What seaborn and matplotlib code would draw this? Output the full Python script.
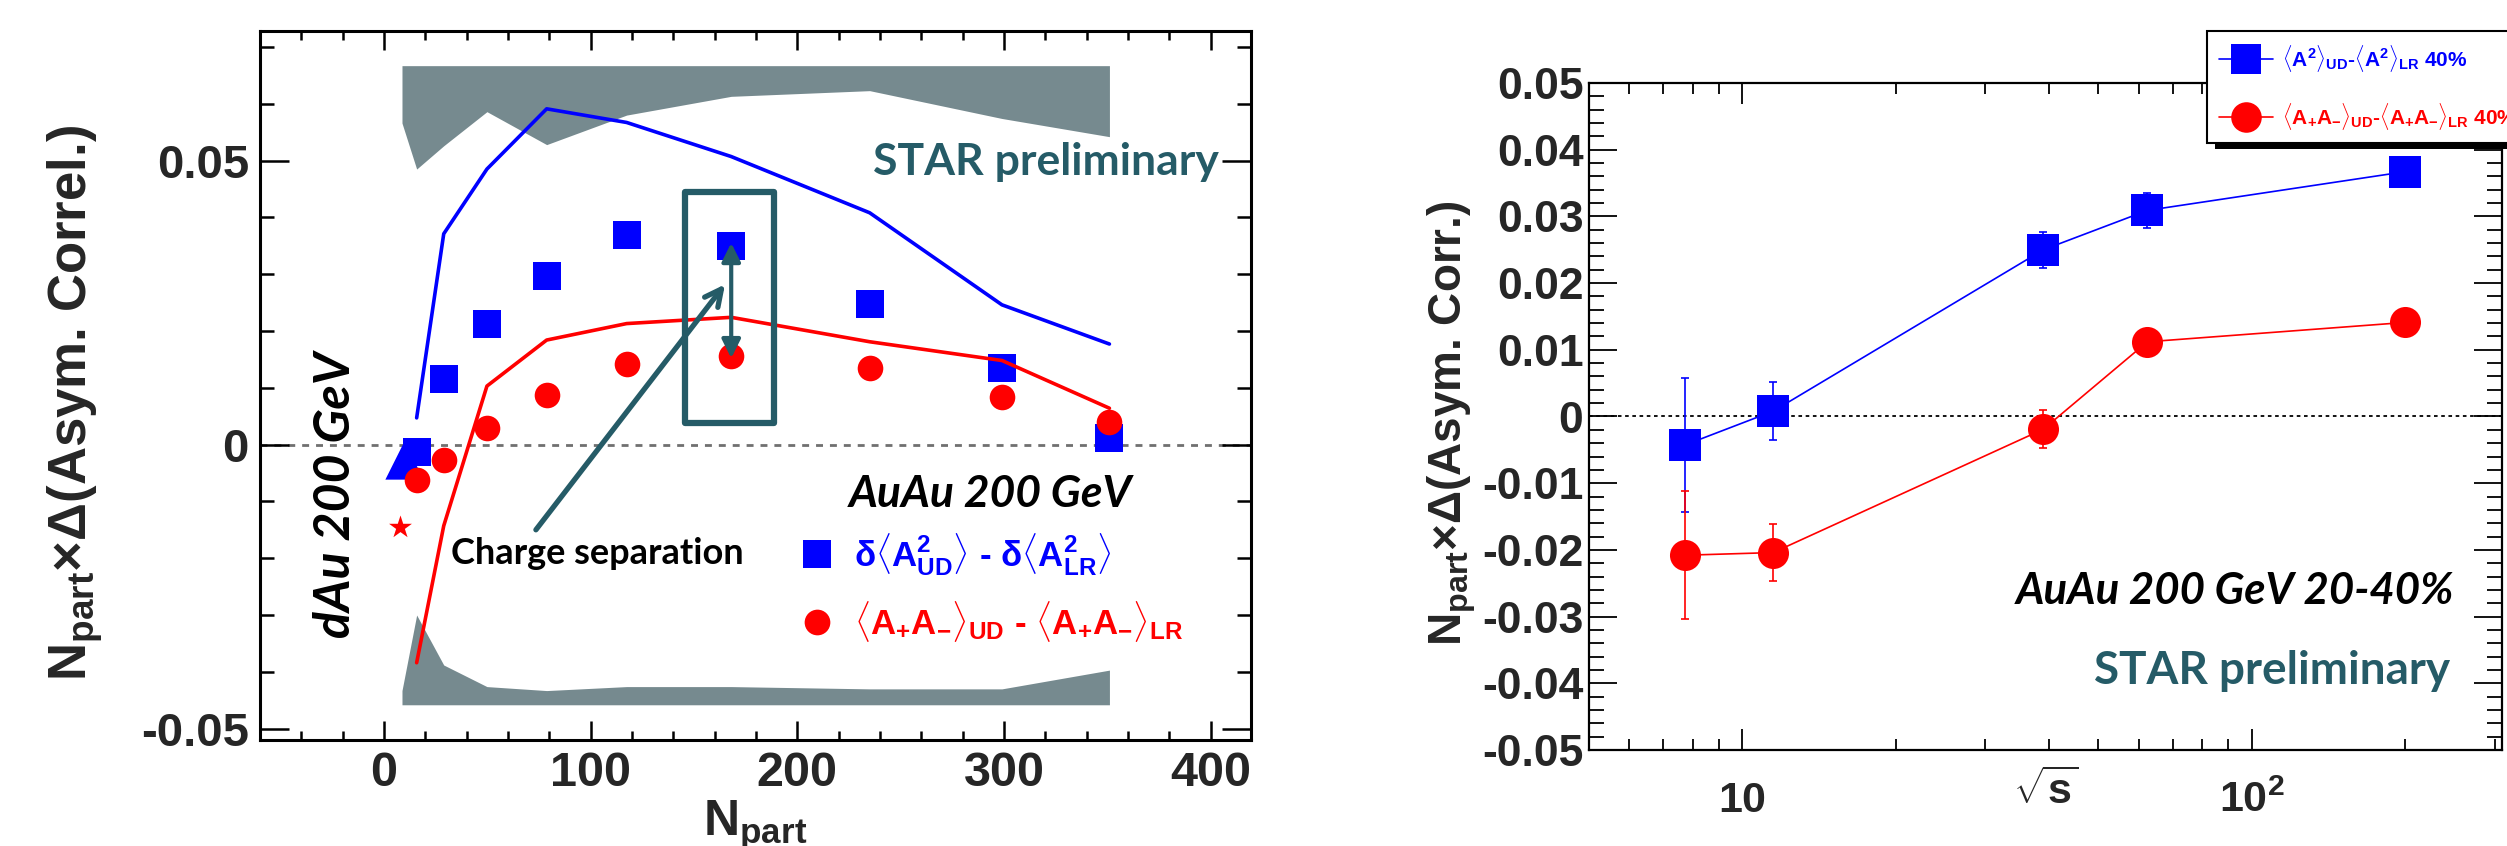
import numpy as np
import pandas as pd
import matplotlib
matplotlib.use("Agg")
import matplotlib.pyplot as plt
import seaborn as sns
from matplotlib.patches import Rectangle
from matplotlib.lines import Line2D
from matplotlib.ticker import FixedLocator, FixedFormatter, MultipleLocator, NullFormatter

# ---------------- Left panel data (vs N_part) ----------------
npart = [15.8, 28.9, 49.8, 78.7, 117.4, 168, 235, 299, 351]
sq_vals = [-0.0013, 0.0116, 0.0212, 0.0297, 0.0369, 0.0350, 0.0248, 0.0134, 0.0011]
circ_vals = [-0.0063, -0.0027, 0.0029, 0.0088, 0.0141, 0.0156, 0.0134, 0.0084, 0.0039]
blue_line = [0.0047, 0.0371, 0.0485, 0.0591, 0.0567, 0.0507, 0.0408, 0.0246, 0.0177]
red_line = [-0.0384, -0.0143, 0.0103, 0.0184, 0.0213, 0.0224, 0.0181, 0.0148, 0.0064]
band_x = [8.7, 15.8, 28.9, 49.8, 78.7, 117.4, 168, 235, 299, 351]
band_top_hi = [0.0667, 0.0667, 0.0667, 0.0667, 0.0667, 0.0667, 0.0667, 0.0667, 0.0667, 0.0667]
band_top_lo = [0.0566, 0.0485, 0.0526, 0.0586, 0.0528, 0.0580, 0.0613, 0.0623, 0.0574, 0.0542]
band_bot_hi = [-0.0433, -0.0300, -0.0388, -0.0426, -0.0433, -0.0426, -0.0426, -0.0430, -0.0430, -0.0397]
band_bot_lo = [-0.0458, -0.0458, -0.0458, -0.0458, -0.0458, -0.0458, -0.0458, -0.0458, -0.0458, -0.0458]
dau_x = [9.5]
dau_sq = [-0.0028]
dau_star_x = [7.7]
dau_circ = [-0.0145]
left_xticks = [0, 100, 200, 300, 400]
left_xticklabels = ["0", "100", "200", "300", "400"]
left_yticks = [-0.05, 0.0, 0.05]
left_yticklabels = ["-0.05", "0", "0.05"]

# ---------------- Right panel data (vs sqrt(s)) ----------------
sqrt_s = [7.7, 11.5, 39.0, 62.4, 200.0]
sq_r = [-0.0043, 0.0008, 0.0250, 0.0309, 0.0367]
sq_r_err = [0.0100, 0.0043, 0.0027, 0.0026, 0.0010]
circ_r = [-0.0208, -0.0204, -0.0019, 0.0112, 0.0141]
circ_r_err = [0.0096, 0.0043, 0.0028, 0.0005, 0.0005]
right_yticks = [-0.05, -0.04, -0.03, -0.02, -0.01, 0.0, 0.01, 0.02, 0.03, 0.04, 0.05]
right_yticklabels = ["-0.05", "-0.04", "-0.03", "-0.02", "-0.01", "0",
                     "0.01", "0.02", "0.03", "0.04", "0.05"]
right_xticks = [10, 100]
right_xticklabels = ["10", r"$10^{2}$"]
right_xminor = [5, 6, 7, 8, 9, 20, 30, 40, 50, 60, 70, 80, 90, 200, 300]

BLUE = "#0000ff"
RED = "#ff0000"
GRAY = "#768a8f"
TEAL = "#255b67"

sns.set_theme(style="white")
plt.rcParams['font.family'] = ['Liberation Sans', 'DejaVu Sans']
plt.rcParams['font.weight'] = 'bold'
plt.rcParams['mathtext.fontset'] = 'custom'
plt.rcParams['mathtext.rm'] = 'Liberation Sans:bold'
plt.rcParams['mathtext.bf'] = 'Liberation Sans:bold'
plt.rcParams['mathtext.it'] = 'Liberation Sans:bold:italic'
plt.rcParams['mathtext.sf'] = 'Liberation Sans:bold'
plt.rcParams['mathtext.default'] = 'rm'

fig = plt.figure(figsize=(25.07, 8.46), dpi=100)
fig.patch.set_facecolor('white')
axL = fig.add_axes([260/2507, 1-740/846, 991/2507, 709/846])
axR = fig.add_axes([1589/2507, 1-750/846, 913/2507, 667/846])

# ======================= LEFT PANEL =======================
dfL = pd.DataFrame({'npart': npart, 'sq': sq_vals, 'circ': circ_vals,
                    'bl': blue_line, 'rl': red_line})
axL.fill_between(band_x, band_top_lo, band_top_hi, color=GRAY, lw=0, zorder=1)
axL.fill_between(band_x, band_bot_lo, band_bot_hi, color=GRAY, lw=0, zorder=1)
axL.axhline(0, color='#707070', ls=(0, (2.5, 2.5)), lw=2, zorder=0.5)

sns.scatterplot(x=dau_x, y=dau_sq, marker='^', s=760, color=BLUE, linewidth=0, ax=axL, zorder=2)
sns.scatterplot(data=dfL, x='npart', y='sq', marker='s', s=380, color=BLUE, linewidth=0, ax=axL, zorder=3)
sns.lineplot(data=dfL, x='npart', y='bl', color=BLUE, lw=2.6, sort=False, estimator=None, ax=axL, zorder=4)
sns.lineplot(data=dfL, x='npart', y='rl', color=RED, lw=2.6, sort=False, estimator=None, ax=axL, zorder=4)
sns.scatterplot(data=dfL, x='npart', y='circ', marker='o', s=340, color=RED, linewidth=0, ax=axL, zorder=5)
sns.scatterplot(x=dau_star_x, y=dau_circ, marker='*', s=300, color=RED, linewidth=0, ax=axL, zorder=5)

axL.set_xlim(-60, 419.5)
axL.set_ylim(-0.052, 0.0728)

# teal box and arrows
axL.add_patch(Rectangle((145.5, 0.0038), 43, 0.0406, fill=False, edgecolor=TEAL,
                        lw=4.5, joinstyle='round', zorder=6))
axL.annotate('', xy=(168, 0.0355), xytext=(168, 0.0152),
             arrowprops=dict(arrowstyle='<|-|>', color=TEAL, lw=3, mutation_scale=28,
                             shrinkA=0, shrinkB=0), zorder=7)
axL.annotate('', xy=(165, 0.0282), xytext=(73.5, -0.0150),
             arrowprops=dict(arrowstyle='->', color=TEAL, lw=3.8, mutation_scale=30,
                             shrinkA=0, shrinkB=0, capstyle='round'), zorder=7)

axL.text(404, 0.0497, 'STAR preliminary', color=TEAL, family=['Lato', 'DejaVu Sans'],
         fontweight='bold', fontsize=32, ha='right', va='center', zorder=8)
axL.text(225, -0.0087, 'AuAu 200 GeV', color='black', family=['Lato', 'DejaVu Sans'],
         fontweight='bold', style='italic', fontsize=32, ha='left', va='center', zorder=8)
axL.text(-23.5, -0.0089, 'dAu 200 GeV', color='black', family=['Lato', 'DejaVu Sans'],
         fontweight='bold', style='italic', fontsize=36, ha='center', va='center',
         rotation=90, zorder=8)
axL.text(32.4, -0.0191, 'Charge separation', color='black', family=['Lato', 'DejaVu Sans'],
         fontweight='bold', fontsize=26, ha='left', va='center', zorder=8)

handlesL = [Line2D([], [], marker='s', ls='', color=BLUE, ms=19.5, mew=0),
            Line2D([], [], marker='o', ls='', color=RED, ms=18.5, mew=0)]
labelsL = [r'$\delta\langle\mathrm{A}^{2}_{\mathrm{UD}}\rangle$ - $\delta\langle\mathrm{A}^{2}_{\mathrm{LR}}\rangle$',
           r'$\langle\mathrm{A}_{+}\mathrm{A}_{-}\rangle_{\mathrm{UD}}$ - $\langle\mathrm{A}_{+}\mathrm{A}_{-}\rangle_{\mathrm{LR}}$']
legL = axL.legend(handlesL, labelsL, loc='upper left', bbox_to_anchor=(0.545, 0.294),
                  frameon=False, fontsize=25, borderpad=0, handlelength=1.0,
                  handletextpad=0.55, labelspacing=0.6, labelcolor='markerfacecolor',
                  borderaxespad=0)

axL.xaxis.set_major_locator(FixedLocator(left_xticks))
axL.xaxis.set_major_formatter(FixedFormatter(left_xticklabels))
axL.xaxis.set_minor_locator(MultipleLocator(20))
axL.yaxis.set_major_locator(FixedLocator(left_yticks))
axL.yaxis.set_major_formatter(FixedFormatter(left_yticklabels))
axL.yaxis.set_minor_locator(MultipleLocator(0.01))
axL.tick_params(axis='both', which='both', direction='in', top=True, right=True,
                bottom=True, left=True, color='black', width=1.8)
axL.tick_params(axis='x', which='major', length=13.5, labelsize=35, pad=8)
axL.tick_params(axis='x', which='minor', length=6.5)
axL.tick_params(axis='y', which='major', length=21, labelsize=34, pad=8)
axL.tick_params(axis='y', which='minor', length=10)
for sp in axL.spines.values():
    sp.set_color('black'); sp.set_linewidth(2.2); sp.set_visible(True)
axL.set_xlabel(r'N$_{\mathrm{part}}$', fontsize=36, fontweight='bold', va='top')
axL.xaxis.set_label_coords(0.5, -0.083)
axL.set_ylabel(r'N$_{\mathrm{part}}$×Δ(Asym. Correl.)', fontsize=38, fontweight='bold', va='center')
axL.yaxis.set_label_coords(-0.187, 0.475)

# ======================= RIGHT PANEL =======================
dfR = pd.DataFrame({'sqrt_s': sqrt_s, 'sq': sq_r, 'sq_err': sq_r_err,
                    'circ': circ_r, 'circ_err': circ_r_err})
axR.set_xscale('log')
axR.axhline(0, color='black', ls=(0, (2, 2)), lw=1.3, zorder=0.5)
axR.errorbar(dfR['sqrt_s'], dfR['sq'], yerr=dfR['sq_err'], fmt='none', ecolor=BLUE,
             elinewidth=1.2, capsize=3, capthick=1.2, zorder=2)
axR.errorbar(dfR['sqrt_s'], dfR['circ'], yerr=dfR['circ_err'], fmt='none', ecolor=RED,
             elinewidth=1.2, capsize=3, capthick=1.2, zorder=2)
sns.lineplot(data=dfR, x='sqrt_s', y='sq', color=BLUE, lw=1.2, sort=False, estimator=None, ax=axR, zorder=3)
sns.lineplot(data=dfR, x='sqrt_s', y='circ', color=RED, lw=1.2, sort=False, estimator=None, ax=axR, zorder=3)
sns.scatterplot(data=dfR, x='sqrt_s', y='sq', marker='s', s=500, color=BLUE, linewidth=0, ax=axR, zorder=4)
sns.scatterplot(data=dfR, x='sqrt_s', y='circ', marker='o', s=500, color=RED, linewidth=0, ax=axR, zorder=4)
axR.set_xlim(5, 310)
axR.set_ylim(-0.05, 0.05)

axR.text(0.948, 0.238, 'AuAu 200 GeV 20-40%', transform=axR.transAxes, color='black',
         family=['Lato', 'DejaVu Sans'], fontweight='bold', style='italic', fontsize=31.5,
         ha='right', va='center')
axR.text(0.943, 0.118, 'STAR preliminary', transform=axR.transAxes, color=TEAL,
         family=['Lato', 'DejaVu Sans'], fontweight='bold', fontsize=33,
         ha='right', va='center')

axR.xaxis.set_major_locator(FixedLocator(right_xticks))
axR.xaxis.set_major_formatter(FixedFormatter(right_xticklabels))
axR.xaxis.set_minor_locator(FixedLocator(right_xminor))
axR.xaxis.set_minor_formatter(NullFormatter())
axR.yaxis.set_major_locator(FixedLocator(right_yticks))
axR.yaxis.set_major_formatter(FixedFormatter(right_yticklabels))
axR.yaxis.set_minor_locator(MultipleLocator(0.002))
axR.tick_params(axis='both', which='both', direction='in', top=True, right=True,
                bottom=True, left=True, color='black', width=1.3)
axR.tick_params(axis='x', which='major', length=15, labelsize=31, pad=22)
axR.tick_params(axis='x', which='minor', length=7.6)
axR.tick_params(axis='y', which='major', length=20, labelsize=32, pad=4)
axR.tick_params(axis='y', which='minor', length=10.5)
for sp in axR.spines.values():
    sp.set_color('black'); sp.set_linewidth(1.6); sp.set_visible(True)
axR.set_xlabel(r'$\sqrt{\mathrm{s}}$', fontsize=31, fontweight='bold', va='top')
axR.xaxis.set_label_coords(0.5, -0.03)
axR.set_ylabel(r'N$_{\mathrm{part}}$×Δ(Asym. Corr.)', fontsize=33, fontweight='bold', va='center')
axR.yaxis.set_label_coords(-0.150, 0.49)

handlesR = [Line2D([], [], marker='s', color=BLUE, lw=1.2, ms=22, mew=0),
            Line2D([], [], marker='o', color=RED, lw=1.2, ms=22, mew=0)]
labelsR = [r'$\langle\mathrm{A}^{2}\rangle_{\mathrm{UD}}$-$\langle\mathrm{A}^{2}\rangle_{\mathrm{LR}}$ 40%',
           r'$\langle\mathrm{A}_{+}\mathrm{A}_{-}\rangle_{\mathrm{UD}}$-$\langle\mathrm{A}_{+}\mathrm{A}_{-}\rangle_{\mathrm{LR}}$ 40%']
legR = fig.legend(handlesR, labelsR, loc='upper left', bbox_to_anchor=(2207/2507, 1-31/846),
                  bbox_transform=fig.transFigure, frameon=True, fancybox=False,
                  shadow=False, framealpha=1.0, fontsize=15,
                  borderpad=0.56, handlelength=2.6, handletextpad=0.45, labelspacing=1.3,
                  labelcolor='markerfacecolor', borderaxespad=0)
legR.get_frame().set_edgecolor('black')
legR.get_frame().set_linewidth(1.5)
legR.get_frame().set_facecolor('white')
legR.get_frame().set_alpha(1.0)
legR.set_zorder(10)

# solid black drop shadow of the legend box (ROOT style)
fig.canvas.draw()
bb = legR.get_window_extent()
W, H = fig.bbox.width, fig.bbox.height
shadow = Rectangle(((bb.x0 + 8) / W, (bb.y0 - 6) / H), bb.width / W, bb.height / H,
                   transform=fig.transFigure, facecolor='black', edgecolor='none', zorder=9)
fig.add_artist(shadow)

fig.savefig('out.png', dpi=100)
